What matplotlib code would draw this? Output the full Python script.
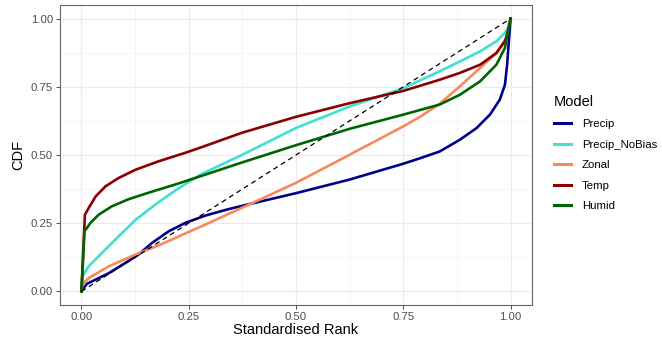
import matplotlib
matplotlib.use("Agg")
import matplotlib.pyplot as plt
from matplotlib.ticker import MultipleLocator

plt.rcParams['font.family'] = ['Liberation Sans', 'DejaVu Sans']

# ---- data ----
precip_rank = [0, 0.005, 0.013, 0.033, 0.064, 0.102, 0.133, 0.164, 0.203, 0.242,
               0.289, 0.339, 0.386, 0.5, 0.625, 0.75, 0.789, 0.835, 0.882, 0.921,
               0.952, 0.975, 0.987, 0.992, 0.996, 1.0]
precip = [0, 0.012, 0.028, 0.043, 0.067, 0.104, 0.135, 0.177, 0.22, 0.251,
          0.278, 0.300, 0.318, 0.360, 0.410, 0.468, 0.488, 0.513, 0.556, 0.599,
          0.648, 0.703, 0.758, 0.831, 0.917, 1.0]

nobias_rank = [0, 0.002, 0.017, 0.048, 0.087, 0.126, 0.172, 0.219, 0.277, 0.375,
               0.5, 0.625, 0.75, 0.835, 0.882, 0.929, 0.967, 0.987, 0.995, 1.0]
precip_nobias = [0, 0.055, 0.092, 0.141, 0.202, 0.262, 0.318, 0.37, 0.428, 0.501,
                 0.599, 0.678, 0.745, 0.807, 0.843, 0.88, 0.917, 0.948, 0.97, 1.0]

zonal_rank = [0, 0.002, 0.017, 0.064, 0.126, 0.188, 0.25, 0.289, 0.386, 0.5,
              0.625, 0.75, 0.789, 0.835, 0.882, 0.929, 0.967, 0.990, 1.0]
zonal = [0, 0.025, 0.049, 0.092, 0.135, 0.174, 0.218, 0.245, 0.315, 0.398,
         0.501, 0.605, 0.640, 0.688, 0.752, 0.819, 0.874, 0.929, 1.0]

temp_rank = [0, 0.008, 0.017, 0.033, 0.056, 0.087, 0.126, 0.18, 0.242, 0.277,
             0.375, 0.5, 0.625, 0.75, 0.835, 0.882, 0.929, 0.967, 0.987, 0.995, 1.0]
temp = [0, 0.281, 0.306, 0.348, 0.385, 0.416, 0.446, 0.477, 0.508, 0.527,
        0.582, 0.640, 0.690, 0.735, 0.776, 0.801, 0.831, 0.874, 0.917, 0.96, 1.0]

humid_rank = [0, 0.007, 0.021, 0.040, 0.071, 0.110, 0.157, 0.219, 0.277, 0.375,
              0.5, 0.625, 0.75, 0.835, 0.882, 0.929, 0.967, 0.987, 0.994, 1.0]
humid = [0, 0.22, 0.251, 0.281, 0.312, 0.338, 0.362, 0.392, 0.422, 0.473,
         0.536, 0.596, 0.648, 0.685, 0.721, 0.770, 0.831, 0.893, 0.953, 1.0]

models = ["Precip", "Precip_NoBias", "Zonal", "Temp", "Humid"]
colors = ["#00008B", "#40E0D0", "#F68A5C", "#8B0000", "#006400"]
ticks = [0.00, 0.25, 0.50, 0.75, 1.00]
tick_labels = ["0.00", "0.25", "0.50", "0.75", "1.00"]

# ---- figure ----
fig = plt.figure(figsize=(6.62, 3.39), dpi=100)
W, H = 662, 339
ax = fig.add_axes([60 / W, (H - 305) / H, (532 - 60) / W, (305 - 5) / H])

series = [(precip_rank, precip), (nobias_rank, precip_nobias), (zonal_rank, zonal),
          (temp_rank, temp), (humid_rank, humid)]
for (xs, ys), name, c in zip(series, models, colors):
    ax.plot(xs, ys, color=c, lw=1.9, label=name, solid_joinstyle='round', zorder=3)

ax.plot([0, 1], [0, 1], color="black", lw=0.9, dashes=(4, 3), zorder=4)

ax.set_xlim(-0.05, 1.05)
ax.set_ylim(-0.05, 1.05)
ax.set_xticks(ticks)
ax.set_xticklabels(tick_labels)
ax.set_yticks(ticks)
ax.set_yticklabels(tick_labels)
ax.xaxis.set_minor_locator(MultipleLocator(0.125))
ax.yaxis.set_minor_locator(MultipleLocator(0.125))
ax.grid(which='major', color="#EBEBEB", lw=0.9, zorder=0)
ax.grid(which='minor', color="#F2F2F2", lw=0.5, zorder=0)
ax.set_axisbelow(True)
ax.tick_params(which='minor', length=0)
ax.tick_params(which='major', length=3, width=0.6, color="#333333",
               labelsize=8.2, labelcolor="#4D4D4D", pad=2)
for s in ax.spines.values():
    s.set_color("#666666")
    s.set_linewidth(0.8)

ax.set_xlabel("Standardised Rank", fontsize=10.5, color="black", labelpad=1)
ax.set_ylabel("CDF", fontsize=10.5, color="black", labelpad=4)

leg = fig.legend(loc='upper left', bbox_to_anchor=(554 / W, 1 - 95 / H),
                 frameon=False, title="Model", fontsize=8.2, title_fontsize=10.5,
                 handlelength=1.5, handletextpad=0.95, labelspacing=0.92,
                 borderaxespad=0, borderpad=0)
leg._legend_box.align = "left"
for line in leg.get_lines():
    line.set_linewidth(2.2)

fig.savefig("out.png", dpi=100)
